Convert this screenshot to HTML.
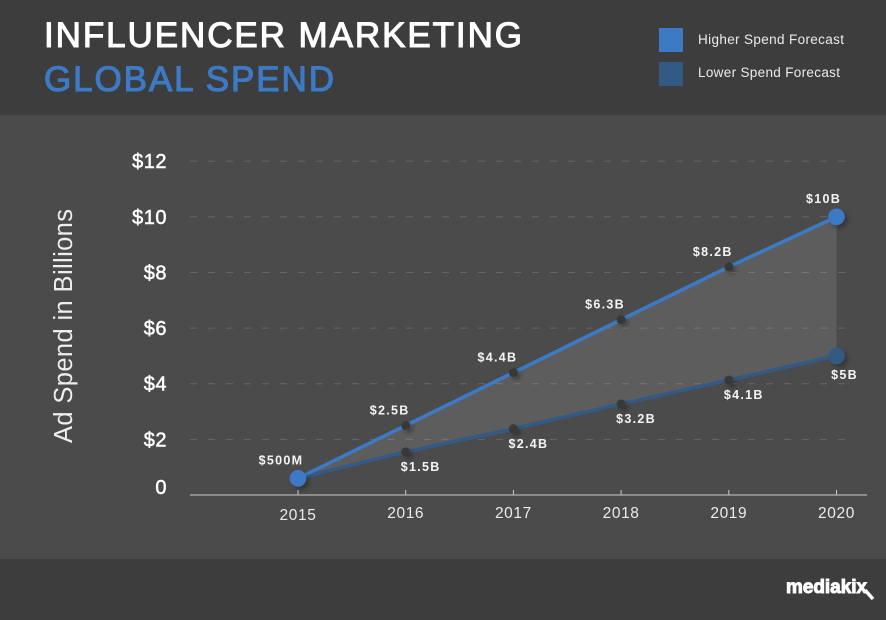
<!DOCTYPE html>
<html lang="en">
<head>
<meta charset="utf-8">
<title>Influencer Marketing Global Spend</title>
<style>
html,body{margin:0;padding:0;background:#4b4b4b}
svg{display:block}
text{font-family:"Liberation Sans",sans-serif}
</style>
</head>
<body>
<svg id="chart" xmlns="http://www.w3.org/2000/svg" width="886" height="620" viewBox="0 0 886 620">
  <defs>
    <filter id="dot-shadow" x="-100%" y="-100%" width="300%" height="300%">
      <feDropShadow dx="3" dy="3" stdDeviation="2.5" flood-color="#000" flood-opacity="0.3"/>
    </filter>
  </defs>
  <rect x="0" y="0" width="886" height="115" fill="#3d3d3d"/>
  <rect x="0" y="115" width="886" height="444" fill="#4b4b4b"/>
  <rect x="0" y="559" width="886" height="61" fill="#3d3d3d"/>

  <text x="44" y="47" font-size="35" font-weight="400" fill="#ffffff" stroke="#ffffff" stroke-width="1.1" textLength="478" lengthAdjust="spacing">INFLUENCER MARKETING</text>
  <text x="44" y="91" font-size="35" font-weight="400" fill="#3d7ac6" stroke="#3d7ac6" stroke-width="1.1" textLength="290" lengthAdjust="spacing">GLOBAL SPEND</text>

  <rect x="659" y="28" width="24" height="24" fill="#3d7ac6"/>
  <text x="698" y="44" font-size="13.5" fill="#ebebeb" textLength="146" lengthAdjust="spacing">Higher Spend Forecast</text>
  <rect x="659" y="62" width="24" height="24" fill="#325a84"/>
  <text x="698" y="77" font-size="13.5" fill="#ebebeb" textLength="142" lengthAdjust="spacing">Lower Spend Forecast</text>

  <text transform="translate(72,326) rotate(-90)" text-anchor="middle" font-size="25.5" fill="#eeeeee" textLength="234" lengthAdjust="spacing">Ad Spend in Billions</text>

  <g id="grid"></g>
  <g id="area"></g>
  <g id="lines"></g>
  <g id="dots"></g>
  <g id="labels"></g>
  <g id="x-axis"></g>
  <g id="y-axis"></g>

  <g>
    <text x="786" y="593" font-size="19" font-weight="700" fill="#ffffff" stroke="#ffffff" stroke-width="1" textLength="81" lengthAdjust="spacingAndGlyphs">mediakix</text>
    <line x1="865" y1="590" x2="873" y2="599" stroke="#ffffff" stroke-width="3.5"/>
  </g>
</svg>
<script>
var years = [2015, 2016, 2017, 2018, 2019, 2020];
var higherValues = [0.6, 2.5, 4.4, 6.3, 8.2, 10];
var lowerValues = [0.6, 1.55, 2.38, 3.27, 4.13, 5];
var higherLabels = ['$500M', '$2.5B', '$4.4B', '$6.3B', '$8.2B', '$10B'];
var lowerLabels = ['', '$1.5B', '$2.4B', '$3.2B', '$4.1B', '$5B'];
var yTicks = [0, 2, 4, 6, 8, 10, 12];
var yTickLabels = ['0', '$2', '$4', '$6', '$8', '$10', '$12'];

var NS = 'http://www.w3.org/2000/svg';
function xScale(year) { return 298 + (year - 2015) * 107.7; }
function yScale(v) { return 495 - v * 27.82; }
function make(parentId, tag, attrs, text) {
  var el = document.createElementNS(NS, tag);
  for (var k in attrs) { el.setAttribute(k, attrs[k]); }
  if (text !== undefined) { el.textContent = text; }
  document.getElementById(parentId).appendChild(el);
  return el;
}
function pointsOf(values) {
  return values.map(function (v, i) { return xScale(years[i]) + ',' + yScale(v); });
}

yTicks.forEach(function (t, i) {
  if (t !== 0) {
    var g = make('grid', 'line', {x1: 190, x2: 846, y1: yScale(t), y2: yScale(t), stroke: '#676767', 'stroke-width': 1, 'stroke-dasharray': '7 11'});
    
    
  }
  var labelY = t === 0 ? yScale(t) - 1 : yScale(t) + 7;
  var lab = make('y-axis', 'text', {x: 167, y: labelY, 'text-anchor': 'end', 'font-size': 20, 'letter-spacing': 0.5, fill: '#ffffff', stroke: '#ffffff', 'stroke-width': 0.5}, yTickLabels[i]);
  
  
});

var area = make('area', 'polygon', {points: pointsOf(higherValues).concat(pointsOf(lowerValues).reverse()).join(' '), fill: '#ffffff', 'fill-opacity': 0.1});



var lowerLine = make('lines', 'polyline', {points: pointsOf(lowerValues).join(' '), fill: 'none', stroke: '#325a84', 'stroke-width': 3.6});


var higherLine = make('lines', 'polyline', {points: pointsOf(higherValues).join(' '), fill: 'none', stroke: '#3d7ac6', 'stroke-width': 3.6});



years.forEach(function (year, i) {
  var last = i === years.length - 1;
  var first = i === 0;
  var x = xScale(year);
  var r = (first || last) ? 8.3 : 4.5;

  if (!first) {
    var lo = make('dots', 'circle', {cx: x, cy: yScale(lowerValues[i]), r: r, fill: last ? '#325a84' : '#383838', filter: 'url(#dot-shadow)'});
    
    
  }
  var hi = make('dots', 'circle', {cx: x, cy: yScale(higherValues[i]), r: r, fill: (first || last) ? '#3d7ac6' : '#383838', filter: 'url(#dot-shadow)'});
  
  

  var hx = first ? x - 17 : (last ? x - 13 : x - 16);
  var hy = yScale(higherValues[i]) + ((first || last) ? -14 : -11);
  var hl = make('labels', 'text', {x: hx, y: hy, 'text-anchor': 'middle', 'font-size': 12.5, 'font-weight': 700, 'letter-spacing': 1.3, fill: '#f4f4f4'}, higherLabels[i]);
  
  

  if (lowerLabels[i]) {
    var lx = last ? x + 8 : x + 15;
    var ly = yScale(lowerValues[i]) + (last ? 23 : 19);
    var ll = make('labels', 'text', {x: lx, y: ly, 'text-anchor': 'middle', 'font-size': 12.5, 'font-weight': 700, 'letter-spacing': 1.3, fill: '#f4f4f4'}, lowerLabels[i]);
    
    
  }

  var tick = make('x-axis', 'line', {x1: x, x2: x, y1: 490, y2: 495, stroke: '#c8c8c8', 'stroke-width': 1});
  
  
  var xl = make('x-axis', 'text', {x: x, y: first ? 520 : 518, 'text-anchor': 'middle', 'font-size': 15.5, 'letter-spacing': 0.6, fill: '#ececec'}, String(year));
  
  
});

var axis = make('x-axis', 'line', {x1: 190, x2: 867, y1: 495, y2: 495, stroke: '#c8c8c8', 'stroke-width': 1});


</script>
</body>
</html>
